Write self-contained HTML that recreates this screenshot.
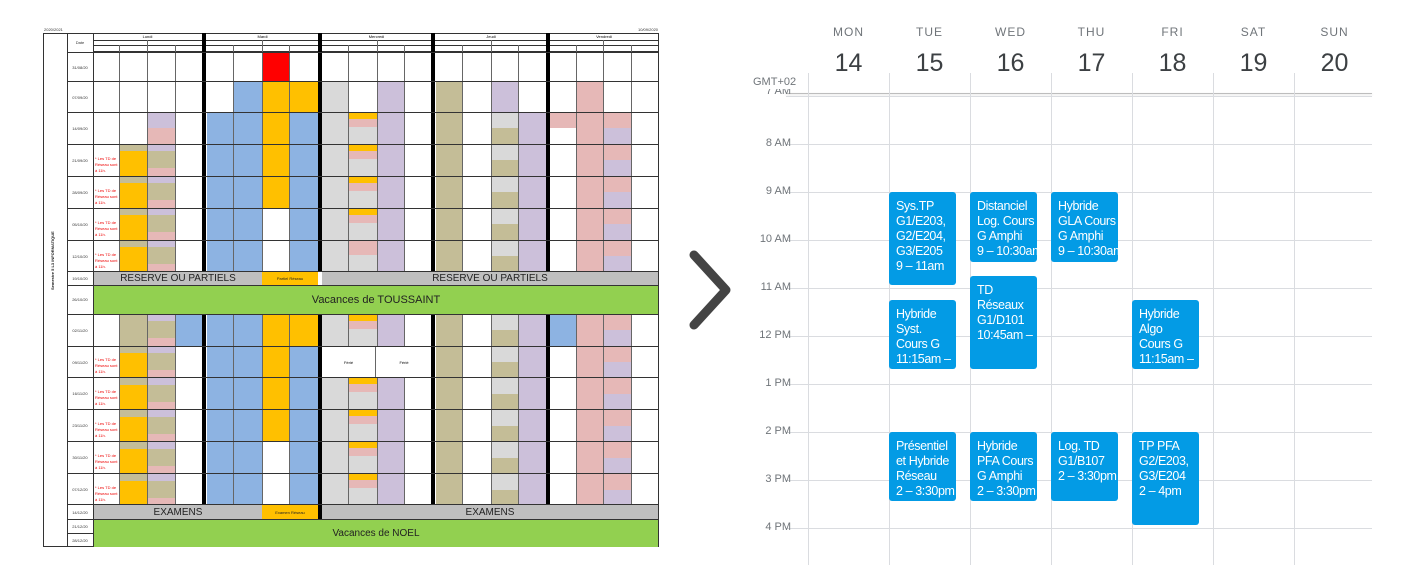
<!DOCTYPE html>
<html><head><meta charset="utf-8">
<style>
*{margin:0;padding:0;box-sizing:border-box}
body{width:1409px;height:582px;background:#fff;position:relative;overflow:hidden;font-family:"Liberation Sans",sans-serif}
.a{position:absolute}
.b{background:#8db3e2}.o{background:#ffc000}.g{background:#d9d9d9}.t{background:#c4bd97}.p{background:#ccc0da}.k{background:#e6b8b7}.r{background:#ff0000}
.lo{background:repeating-linear-gradient(to bottom,#c4bd97 0 7px,#ffc000 7px 32px)}
.lt{background:repeating-linear-gradient(to bottom,#ccc0da 0 7px,#c4bd97 7px 24px,#e6b8b7 24px 32px)}
.wg{background:repeating-linear-gradient(to bottom,#ffc000 0 7px,#e6b8b7 7px 15px,#d9d9d9 15px 32px)}
.jh{background:repeating-linear-gradient(to bottom,#d9d9d9 0 16px,#c4bd97 16px 32px)}
.vh{background:repeating-linear-gradient(to bottom,#e6b8b7 0 16px,#ccc0da 16px 32px)}
.vl{position:absolute;width:1px;background:#666}
.bk{position:absolute;width:4px;background:#000}
.hl{position:absolute;height:1px;background:#333;left:67px;width:592px}
.d{position:absolute;left:67px;width:26px;font-size:4px;text-align:center;color:#333}
.red{position:absolute;left:95px;width:24px;font-size:4px;color:#e00;line-height:6px}
.big{position:absolute;display:flex;align-items:center;justify-content:center;color:#222}
.dn{position:absolute;top:25px;width:81px;text-align:center;font-size:12px;color:#70757a;letter-spacing:1px}
.dd{position:absolute;top:49px;width:81px;text-align:center;font-size:25px;color:#3c4043}
.hr{position:absolute;left:786px;width:586px;height:1px;background:#dadce0}
.vc{position:absolute;top:73px;height:492px;width:1px;background:#dadce0}
.tl{position:absolute;left:740px;width:51px;text-align:right;font-size:11px;color:#70757a}
.ev{position:absolute;background:#039be5;color:#fff;border-radius:3px;font-size:12.5px;letter-spacing:-0.4px;line-height:15px;padding:7px 0 0 7px;overflow:hidden;white-space:nowrap;width:67px}
</style></head><body>

<div class="a" style="left:44px;top:27px;font-size:4px;color:#333">2020/2021</div>
<div class="a" style="left:638px;top:27px;font-size:4px;color:#333">10/09/2020</div>
<div class="a" style="left:43px;top:33px;width:616px;height:514px;border:1px solid #333"></div>
<div class="a" style="left:67px;top:33px;width:1px;height:514px;background:#333"></div>
<div class="a" style="left:50px;top:290px;font-size:4px;transform:rotate(-90deg);transform-origin:left top;white-space:nowrap;color:#222;font-weight:bold">Semestre 5 L3 INFORMATIQUE</div>
<div class="d" style="top:40px">Date</div>
<div class="a" style="left:93px;top:33px;width:566px;height:19px;border-bottom:1px solid #333"></div>
<div class="a" style="left:93px;top:40px;width:566px;height:1px;background:#333"></div>
<div class="a" style="left:93px;top:45px;width:566px;height:1px;background:#333"></div>
<div class="a" style="left:93px;top:34px;width:109px;text-align:center;font-size:4px">Lundi</div>
<div class="a" style="left:207px;top:34px;width:111px;text-align:center;font-size:4px">Mardi</div>
<div class="a" style="left:322px;top:34px;width:109px;text-align:center;font-size:4px">Mercredi</div>
<div class="a" style="left:436px;top:34px;width:110px;text-align:center;font-size:4px">Jeudi</div>
<div class="a" style="left:550px;top:34px;width:108px;text-align:center;font-size:4px">Vendredi</div>

<div class="a lo" style="left:119px;top:144px;width:28px;height:127px"></div>
<div class="a p" style="left:147px;top:112px;width:28px;height:16px"></div>
<div class="a k" style="left:147px;top:128px;width:28px;height:16px"></div>
<div class="a lt" style="left:147px;top:144px;width:28px;height:127px"></div>
<div class="a b" style="left:207px;top:112px;width:26px;height:159px"></div>
<div class="a b" style="left:233px;top:81px;width:29px;height:190px"></div>
<div class="a r" style="left:262px;top:52px;width:27px;height:29px"></div>
<div class="a o" style="left:262px;top:81px;width:27px;height:127px"></div>
<div class="a o" style="left:289px;top:81px;width:29px;height:31px"></div>
<div class="a b" style="left:289px;top:112px;width:29px;height:159px"></div>
<div class="a g" style="left:322px;top:81px;width:26px;height:190px"></div>
<div class="a wg" style="left:348px;top:112px;width:29px;height:128px"></div>
<div class="a k" style="left:348px;top:240px;width:29px;height:15px"></div>
<div class="a g" style="left:348px;top:255px;width:29px;height:16px"></div>
<div class="a p" style="left:377px;top:81px;width:27px;height:190px"></div>
<div class="a t" style="left:436px;top:81px;width:26px;height:190px"></div>
<div class="a p" style="left:491px;top:81px;width:27px;height:31px"></div>
<div class="a jh" style="left:491px;top:112px;width:27px;height:159px"></div>
<div class="a p" style="left:518px;top:112px;width:28px;height:159px"></div>
<div class="a k" style="left:550px;top:112px;width:26px;height:16px"></div>
<div class="a k" style="left:576px;top:81px;width:27px;height:190px"></div>
<div class="a vh" style="left:603px;top:112px;width:28px;height:159px"></div>

<div class="a t" style="left:119px;top:314px;width:28px;height:32px"></div>
<div class="a lo" style="left:119px;top:346px;width:28px;height:158px"></div>
<div class="a lt" style="left:147px;top:314px;width:28px;height:190px"></div>
<div class="a b" style="left:175px;top:314px;width:27px;height:32px"></div>
<div class="a b" style="left:207px;top:314px;width:26px;height:190px"></div>
<div class="a b" style="left:233px;top:314px;width:29px;height:190px"></div>
<div class="a o" style="left:262px;top:314px;width:27px;height:127px"></div>
<div class="a o" style="left:289px;top:314px;width:29px;height:32px"></div>
<div class="a b" style="left:289px;top:346px;width:29px;height:158px"></div>
<div class="a g" style="left:322px;top:314px;width:26px;height:32px"></div>
<div class="a g" style="left:322px;top:377px;width:26px;height:127px"></div>
<div class="a wg" style="left:348px;top:314px;width:29px;height:32px"></div>
<div class="a wg" style="left:348px;top:377px;width:29px;height:127px"></div>
<div class="a p" style="left:377px;top:314px;width:27px;height:32px"></div>
<div class="a p" style="left:377px;top:377px;width:27px;height:127px"></div>
<div class="a t" style="left:436px;top:314px;width:26px;height:190px"></div>
<div class="a jh" style="left:491px;top:314px;width:27px;height:190px"></div>
<div class="a p" style="left:518px;top:314px;width:28px;height:190px"></div>
<div class="a b" style="left:550px;top:314px;width:26px;height:32px"></div>
<div class="a k" style="left:576px;top:314px;width:27px;height:190px"></div>
<div class="a vh" style="left:603px;top:314px;width:28px;height:190px"></div>

<div class="vl" style="left:93px;top:33px;height:514px;background:#333"></div>
<div class="vl" style="left:119px;top:45px;height:459px"></div>
<div class="vl" style="left:147px;top:40px;height:464px"></div>
<div class="vl" style="left:175px;top:45px;height:459px"></div>
<div class="vl" style="left:233px;top:45px;height:459px"></div>
<div class="vl" style="left:262px;top:40px;height:464px"></div>
<div class="vl" style="left:289px;top:45px;height:459px"></div>
<div class="vl" style="left:348px;top:45px;height:459px"></div>
<div class="vl" style="left:377px;top:40px;height:464px"></div>
<div class="vl" style="left:404px;top:45px;height:459px"></div>
<div class="vl" style="left:462px;top:45px;height:459px"></div>
<div class="vl" style="left:491px;top:40px;height:464px"></div>
<div class="vl" style="left:518px;top:45px;height:459px"></div>
<div class="vl" style="left:576px;top:45px;height:459px"></div>
<div class="vl" style="left:603px;top:40px;height:464px"></div>
<div class="vl" style="left:631px;top:45px;height:459px"></div>
<div class="bk" style="left:202px;top:33px;height:238px"></div>
<div class="bk" style="left:318px;top:33px;height:238px"></div>
<div class="bk" style="left:431px;top:33px;height:238px"></div>
<div class="bk" style="left:546px;top:33px;height:238px"></div>
<div class="bk" style="left:202px;top:314px;height:190px"></div>
<div class="bk" style="left:318px;top:314px;height:205px"></div>
<div class="bk" style="left:431px;top:314px;height:190px"></div>
<div class="bk" style="left:546px;top:314px;height:190px"></div>

<div class="a" style="left:322px;top:347px;width:54px;height:30px;background:#fff;border-right:1px solid #666;font-size:4px;display:flex;align-items:center;justify-content:center">Férié</div>
<div class="a" style="left:377px;top:347px;width:54px;height:30px;background:#fff;font-size:4px;display:flex;align-items:center;justify-content:center">Férié</div>

<div class="hl" style="top:52px"></div><div class="hl" style="top:81px"></div><div class="hl" style="top:112px"></div>
<div class="hl" style="top:144px"></div><div class="hl" style="top:176px"></div><div class="hl" style="top:208px"></div>
<div class="hl" style="top:240px"></div><div class="hl" style="top:271px"></div><div class="hl" style="top:285px"></div>
<div class="hl" style="top:314px"></div><div class="hl" style="top:346px"></div><div class="hl" style="top:377px"></div>
<div class="hl" style="top:409px"></div><div class="hl" style="top:441px"></div><div class="hl" style="top:473px"></div>
<div class="hl" style="top:504px"></div><div class="hl" style="top:519px"></div><div class="hl" style="top:533px;width:26px"></div>

<div class="big" style="left:94px;top:272px;width:168px;height:13px;background:#bfbfbf;font-size:10px">RESERVE OU PARTIELS</div>
<div class="big" style="left:262px;top:272px;width:56px;height:13px;background:#ffc000;font-size:4px">Partiel Réseau</div>
<div class="big" style="left:322px;top:272px;width:336px;height:13px;background:#bfbfbf;font-size:10px">RESERVE OU PARTIELS</div>
<div class="big" style="left:94px;top:286px;width:564px;height:28px;background:#92d050;font-size:11px">Vacances de TOUSSAINT</div>
<div class="big" style="left:94px;top:505px;width:168px;height:14px;background:#bfbfbf;font-size:10px">EXAMENS</div>
<div class="big" style="left:262px;top:505px;width:56px;height:14px;background:#ffc000;font-size:4px">Examen Réseau</div>
<div class="big" style="left:322px;top:505px;width:336px;height:14px;background:#bfbfbf;font-size:10px">EXAMENS</div>
<div class="big" style="left:94px;top:520px;width:564px;height:27px;background:#92d050;font-size:10px">Vacances de NOEL</div>

<div class="d" style="top:65px">31/08/20</div><div class="d" style="top:95px">07/09/20</div>
<div class="d" style="top:126px">14/09/20</div><div class="d" style="top:158px">21/09/20</div>
<div class="d" style="top:190px">28/09/20</div><div class="d" style="top:222px">05/10/20</div>
<div class="d" style="top:254px">12/10/20</div><div class="d" style="top:276px">19/10/20</div>
<div class="d" style="top:297px">26/10/20</div><div class="d" style="top:328px">02/11/20</div>
<div class="d" style="top:360px">09/11/20</div><div class="d" style="top:391px">16/11/20</div>
<div class="d" style="top:423px">23/11/20</div><div class="d" style="top:455px">30/11/20</div>
<div class="d" style="top:487px">07/12/20</div><div class="d" style="top:510px">14/12/20</div>
<div class="d" style="top:524px">21/12/20</div><div class="d" style="top:538px">28/12/20</div>

<div class="red" style="top:156px">* Les TD de Réseau sont à 11h.</div>
<div class="red" style="top:188px">* Les TD de Réseau sont à 11h.</div>
<div class="red" style="top:220px">* Les TD de Réseau sont à 11h.</div>
<div class="red" style="top:252px">* Les TD de Réseau sont à 11h.</div>
<div class="red" style="top:357px">* Les TD de Réseau sont à 11h.</div>
<div class="red" style="top:389px">* Les TD de Réseau sont à 11h.</div>
<div class="red" style="top:421px">* Les TD de Réseau sont à 11h.</div>
<div class="red" style="top:453px">* Les TD de Réseau sont à 11h.</div>
<div class="red" style="top:485px">* Les TD de Réseau sont à 11h.</div>

<svg class="a" style="left:680px;top:245px" width="60" height="90"><polyline points="14,10 46,45 14,80" fill="none" stroke="#444" stroke-width="9" stroke-linecap="round" stroke-linejoin="round"/></svg>

<div>
<div class="dn" style="left:808px">MON</div><div class="dn" style="left:889px">TUE</div><div class="dn" style="left:970px">WED</div>
<div class="dn" style="left:1051px">THU</div><div class="dn" style="left:1132px">FRI</div><div class="dn" style="left:1213px">SAT</div><div class="dn" style="left:1294px">SUN</div>
<div class="dd" style="left:808px">14</div><div class="dd" style="left:889px">15</div><div class="dd" style="left:970px">16</div>
<div class="dd" style="left:1051px">17</div><div class="dd" style="left:1132px">18</div><div class="dd" style="left:1213px">19</div><div class="dd" style="left:1294px">20</div>
<div class="a" style="left:753px;top:76px;font-size:11px;color:#70757a">GMT+02</div>
<div class="a" style="left:786px;top:93px;width:586px;height:1px;background:#bdbdbd;box-shadow:0 1px 2px rgba(0,0,0,.15)"></div>
<div class="vc" style="left:808px"></div><div class="vc" style="left:889px"></div><div class="vc" style="left:970px"></div>
<div class="vc" style="left:1051px"></div><div class="vc" style="left:1132px"></div><div class="vc" style="left:1213px"></div><div class="vc" style="left:1294px"></div>
<div class="hr" style="top:96px"></div><div class="hr" style="top:144px"></div><div class="hr" style="top:192px"></div>
<div class="hr" style="top:240px"></div><div class="hr" style="top:288px"></div><div class="hr" style="top:336px"></div>
<div class="hr" style="top:384px"></div><div class="hr" style="top:432px"></div><div class="hr" style="top:480px"></div><div class="hr" style="top:528px"></div>
<div class="tl" style="top:89px;height:7px;overflow:hidden;line-height:4px">7 AM</div>
<div class="tl" style="top:137px">8 AM</div><div class="tl" style="top:185px">9 AM</div><div class="tl" style="top:233px">10 AM</div>
<div class="tl" style="top:281px">11 AM</div><div class="tl" style="top:329px">12 PM</div><div class="tl" style="top:377px">1 PM</div>
<div class="tl" style="top:425px">2 PM</div><div class="tl" style="top:473px">3 PM</div><div class="tl" style="top:521px">4 PM</div>

<div class="ev" style="left:889px;top:192px;height:93px">Sys.TP<br>G1/E203,<br>G2/E204,<br>G3/E205<br>9 – 11am</div>
<div class="ev" style="left:970px;top:192px;height:70px">Distanciel<br>Log. Cours<br>G Amphi<br>9 – 10:30am</div>
<div class="ev" style="left:1051px;top:192px;height:70px">Hybride<br>GLA Cours<br>G Amphi<br>9 – 10:30am</div>
<div class="ev" style="left:970px;top:276px;height:93px">TD<br>Réseaux<br>G1/D101<br>10:45am –</div>
<div class="ev" style="left:889px;top:300px;height:69px">Hybride<br>Syst.<br>Cours G<br>11:15am –</div>
<div class="ev" style="left:1132px;top:300px;height:69px">Hybride<br>Algo<br>Cours G<br>11:15am –</div>
<div class="ev" style="left:889px;top:432px;height:69px">Présentiel<br>et Hybride<br>Réseau<br>2 – 3:30pm</div>
<div class="ev" style="left:970px;top:432px;height:69px">Hybride<br>PFA Cours<br>G Amphi<br>2 – 3:30pm</div>
<div class="ev" style="left:1051px;top:432px;height:69px">Log. TD<br>G1/B107<br>2 – 3:30pm</div>
<div class="ev" style="left:1132px;top:432px;height:93px">TP PFA<br>G2/E203,<br>G3/E204<br>2 – 4pm</div>
</div>
</body></html>
